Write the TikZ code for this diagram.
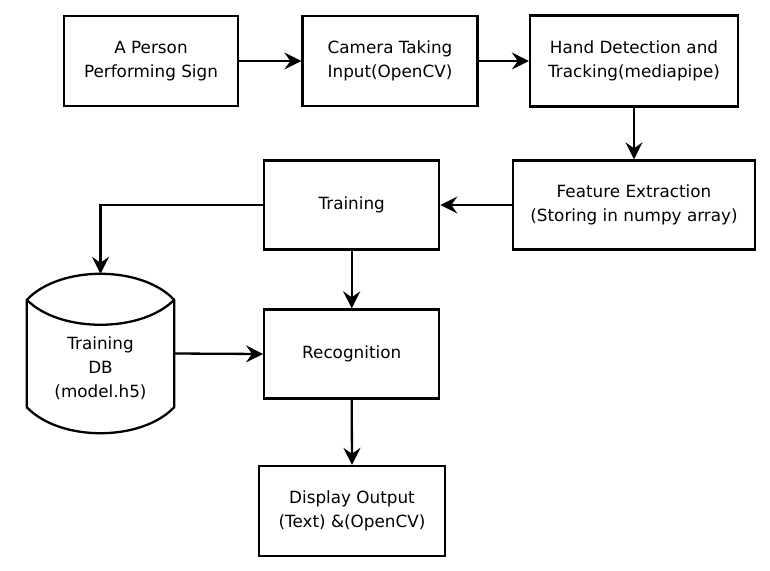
\documentclass[tikz,border=0pt]{standalone}
\usepackage{fontspec}
\setmainfont{DejaVu Sans}
\usetikzlibrary{arrows.meta,calc}
\begin{document}
\begin{tikzpicture}[x=1pt,y=-1pt,
  box/.style={draw=black,line width=2.3pt,rectangle,align=center,inner sep=0pt,
    font=\fontsize{16.8}{24}\selectfont},
  conn/.style={line width=2.3pt,-{Stealth[length=17pt,width=17pt,inset=6pt]}},
  every node/.append style={font=\fontsize{16.8}{24}\selectfont}]
\useasboundingbox (0,0) rectangle (770,570);
\node[box,minimum width=174pt,minimum height=90pt] (b1) at (151,61) {A Person\\Performing Sign};
\node[box,minimum width=175pt,minimum height=90pt] (b2) at (390,61) {Camera Taking\\Input(OpenCV)};
\node[box,minimum width=208pt,minimum height=91pt] (b3) at (634,61) {Hand Detection and\\Tracking(mediapipe)};
\node[box,minimum width=242pt,minimum height=89pt] (feat) at (634,205) {Feature Extraction\\(Storing in numpy array)};
\node[box,minimum width=175pt,minimum height=89pt] (train) at (351.7,205) {Training};
\node[box,minimum width=175pt,minimum height=89pt] (rec) at (351.7,354) {Recognition};
\node[box,minimum width=186pt,minimum height=90pt] (disp) at (352,511) {Display Output\\(Text) \&(OpenCV)};
\node[rectangle,inner sep=0pt,minimum width=147pt,minimum height=159pt] (db) at (100.5,353.5) {};
\node[align=center,inner sep=0pt] (dbt) at (100.5,368) {Training\\DB\\(model.h5)};
\draw[line width=2.3pt,line join=round]
  ($(db.north west)+(0,26)$) .. controls ($(db.north west)+(33,-8.7)$) and ($(db.north east)+(-33,-8.7)$) .. ($(db.north east)+(0,26)$)
  -- ($(db.south east)+(0,-26)$)
  .. controls ($(db.south east)+(-33,8.7)$) and ($(db.south west)+(33,8.7)$) .. ($(db.south west)+(0,-26)$)
  -- cycle;
\draw[line width=2.3pt]
  ($(db.north west)+(0,26)$) .. controls ($(db.north west)+(33,59.3)$) and ($(db.north east)+(-33,59.3)$) .. ($(db.north east)+(0,26)$);
\draw[conn] (b1.east) -- (b2.west);
\draw[conn] (b2.east) -- (b3.west);
\draw[conn] (b3.south) -- (feat.north);
\draw[conn] (feat.west) -- (train.east);
\draw[conn] (train.west) -| (db.north);
\draw[conn] (train.south) -- (rec.north);
\draw[conn] (db.east) -- (rec.west);
\draw[conn] (rec.south) -- (disp.north);
\end{tikzpicture}
\end{document}
